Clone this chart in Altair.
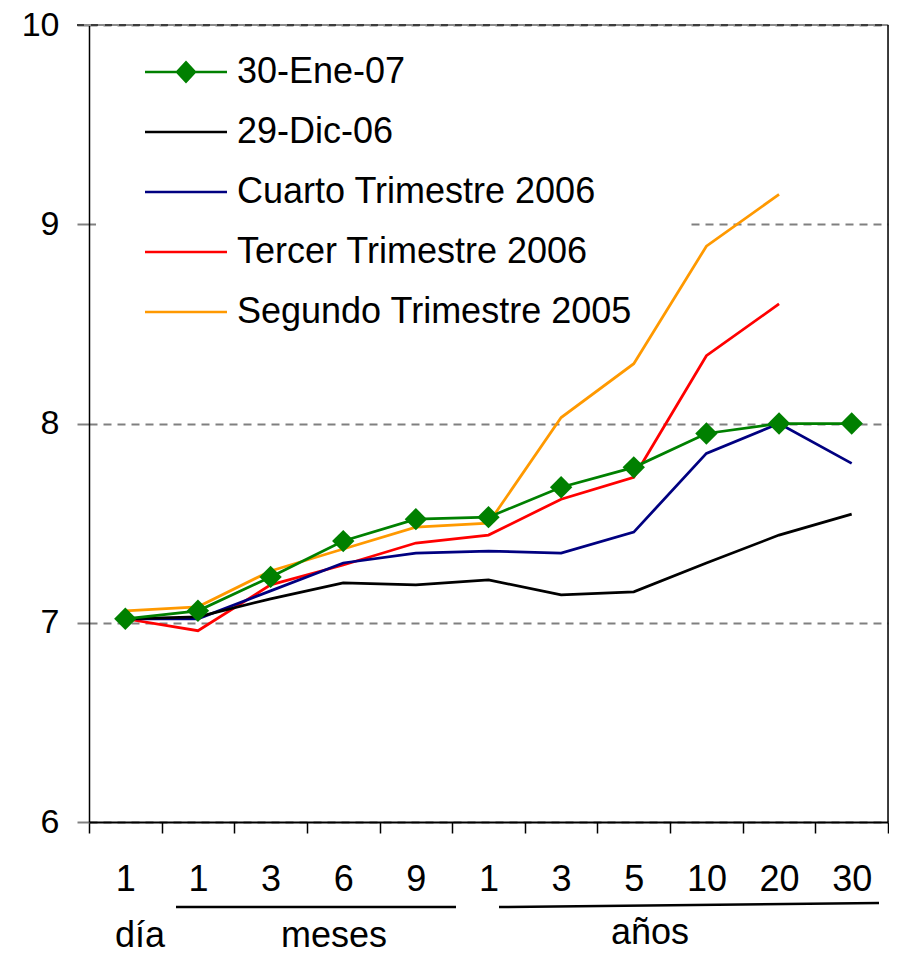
import altair as alt
import pandas as pd

# ---------------- data ----------------
categories = ["1d", "1m", "3m", "6m", "9m", "1a", "3a", "5a", "10a", "20a", "30a"]
tick_labels = ["1", "1", "3", "6", "9", "1", "3", "5", "10", "20", "30"]

series_names = ["30-Ene-07", "29-Dic-06", "Cuarto Trimestre 2006",
                "Tercer Trimestre 2006", "Segundo Trimestre 2005"]
series_colors = ["#008000", "#000000", "#000080", "#FF0000", "#FF9900"]

ene07 = [7.02, 7.06, 7.23, 7.41, 7.52, 7.53, 7.68, 7.78, 7.95, 8.00, 8.00]
dic06 = [7.02, 7.03, 7.12, 7.20, 7.19, 7.215, 7.14, 7.155, 7.30, 7.44, 7.545]
cuarto06 = [7.02, 7.02, 7.16, 7.30, 7.35, 7.36, 7.35, 7.455, 7.85, 8.00, 7.80]
tercer06 = [7.02, 6.96, 7.19, 7.29, 7.40, 7.44, 7.62, 7.73, 8.34, 8.60, None]
segundo05 = [7.06, 7.08, 7.26, 7.37, 7.48, 7.50, 8.03, 8.30, 8.89, 9.15, None]

group_labels = ["día", "meses", "años"]

values_by_series = [ene07, dic06, cuarto06, tercer06, segundo05]
rows = []
for name, vals in zip(series_names, values_by_series):
    for c, v in zip(categories, vals):
        if v is not None:
            rows.append({"plazo": c, "serie": name, "tasa": v})
df = pd.DataFrame(rows)

FONT = "Liberation Sans"
W, H = 799, 797

cats_js = "[" + ",".join("'%s'" % c for c in categories) + "]"
labs_js = "[" + ",".join("'%s'" % t for t in tick_labels) + "]"
label_expr = "%s[indexof(%s, datum.value)]" % (labs_js, cats_js)

x_enc = alt.X(
    "plazo:O",
    sort=categories,
    bandPosition=0.5,
    scale=alt.Scale(type="band", domain=categories, paddingInner=0, paddingOuter=0),
    axis=alt.Axis(
        title=None, labelExpr=label_expr, labelAngle=0, labelFontSize=36,
        labelFont=FONT, labelColor="black", tickBand="extent", tickSize=11,
        tickColor="black", tickWidth=1.5, domainColor="black", domainWidth=2,
        labelPadding=29, grid=False,
    ),
)
y_enc = alt.Y(
    "tasa:Q",
    scale=alt.Scale(domain=[6, 10], nice=False, zero=False),
    axis=alt.Axis(
        title=None, values=[6, 7, 8, 9, 10], format="d", labelFontSize=34,
        labelFont=FONT, labelColor="black", tickSize=12, tickColor="#808080",
        tickWidth=2, labelPadding=18, domainColor="black", domainWidth=1.5,
        grid=True, gridColor="#808080", gridDash=[8, 6], gridWidth=2,
    ),
)

base = alt.Chart(df)
one = pd.DataFrame({"a": [0]})

# white legend background (hides the grid line behind the legend)
legend_bg = alt.Chart(one).mark_rect(color="white").encode(
    x=alt.value(7), x2=alt.value(599), y=alt.value(10), y2=alt.value(310)
)

# top edge of the plot area: grey line with darker dashes
top_solid = alt.Chart(one).mark_rule(color="#8c8c8c", strokeWidth=2).encode(
    x=alt.value(-12), x2=alt.value(W), y=alt.value(0), y2=alt.value(0)
)
top_dash = alt.Chart(one).mark_rule(color="#3c3c3c", strokeWidth=2, strokeDash=[7, 7]).encode(
    x=alt.value(-12), x2=alt.value(W), y=alt.value(0), y2=alt.value(0)
)

# lines, drawn back to front
line_layers = []
for name, col in reversed(list(zip(series_names, series_colors))):
    line_layers.append(
        base.transform_filter(alt.datum.serie == name)
        .mark_line(color=col, strokeWidth=2.75)
        .encode(x=x_enc, y=y_enc)
    )

points = (
    base.transform_filter(alt.datum.serie == series_names[0])
    .mark_point(shape="diamond", filled=True, size=500, opacity=1, color=series_colors[0])
    .encode(x=x_enc, y=y_enc)
)

line_path = "M-1,-0.03H1V0.03H-1Z"
diamond_path = "M-1,-0.03H1V0.03H-1Z M0,-0.28L0.26,0L0,0.28L-0.26,0Z"
shape_range = [diamond_path] + [line_path] * (len(series_names) - 1)

leg = alt.Legend(
    title=None, orient="none", legendX=56, legendY=27, padding=0,
    labelFontSize=36, labelFont=FONT, labelColor="black", labelOffset=10,
    labelLimit=1000, symbolSize=6724, clipHeight=40, rowPadding=20,
    symbolStrokeWidth=0, symbolOpacity=1,
)
legend_layer = (
    base.transform_filter("false")
    .mark_point(filled=True, opacity=1)
    .encode(
        color=alt.Color("serie:N", scale=alt.Scale(domain=series_names, range=series_colors), legend=leg),
        shape=alt.Shape("serie:N", scale=alt.Scale(domain=series_names, range=shape_range), legend=leg),
    )
)

# right border of the plot area
right_border = alt.Chart(one).mark_rule(color="black", strokeWidth=1.5).encode(
    x=alt.value(W), y=alt.value(0), y2=alt.value(H)
)

# group labels under the axis
group_pos = [(51, 922), (245, 922), (561, 919)]
text_layers = []
for lab, (gx, gy) in zip(group_labels, group_pos):
    text_layers.append(
        alt.Chart(one).mark_text(fontSize=36, font=FONT, color="black",
                                 align="center", baseline="alphabetic")
        .encode(x=alt.value(gx), y=alt.value(gy), text=alt.value(lab))
    )

under_meses = alt.Chart(one).mark_rule(color="black", strokeWidth=2.5).encode(
    x=alt.value(87), x2=alt.value(367), y=alt.value(882), y2=alt.value(882)
)
under_anos = alt.Chart(one).mark_rule(color="black", strokeWidth=2.5).encode(
    x=alt.value(410), x2=alt.value(790), y=alt.value(882), y2=alt.value(878)
)

chart = alt.layer(
    legend_bg, top_solid, top_dash, *line_layers, points, legend_layer, right_border,
    *text_layers, under_meses, under_anos,
).properties(
    width=W, height=H,
    padding={"left": 81, "top": 17, "right": 1, "bottom": 128},
    autosize=alt.AutoSizeParams(type="none"),
).configure_view(stroke=None).configure(font=FONT, background="white")

chart.save("out.html", embed_options={"renderer": "svg", "actions": False})
